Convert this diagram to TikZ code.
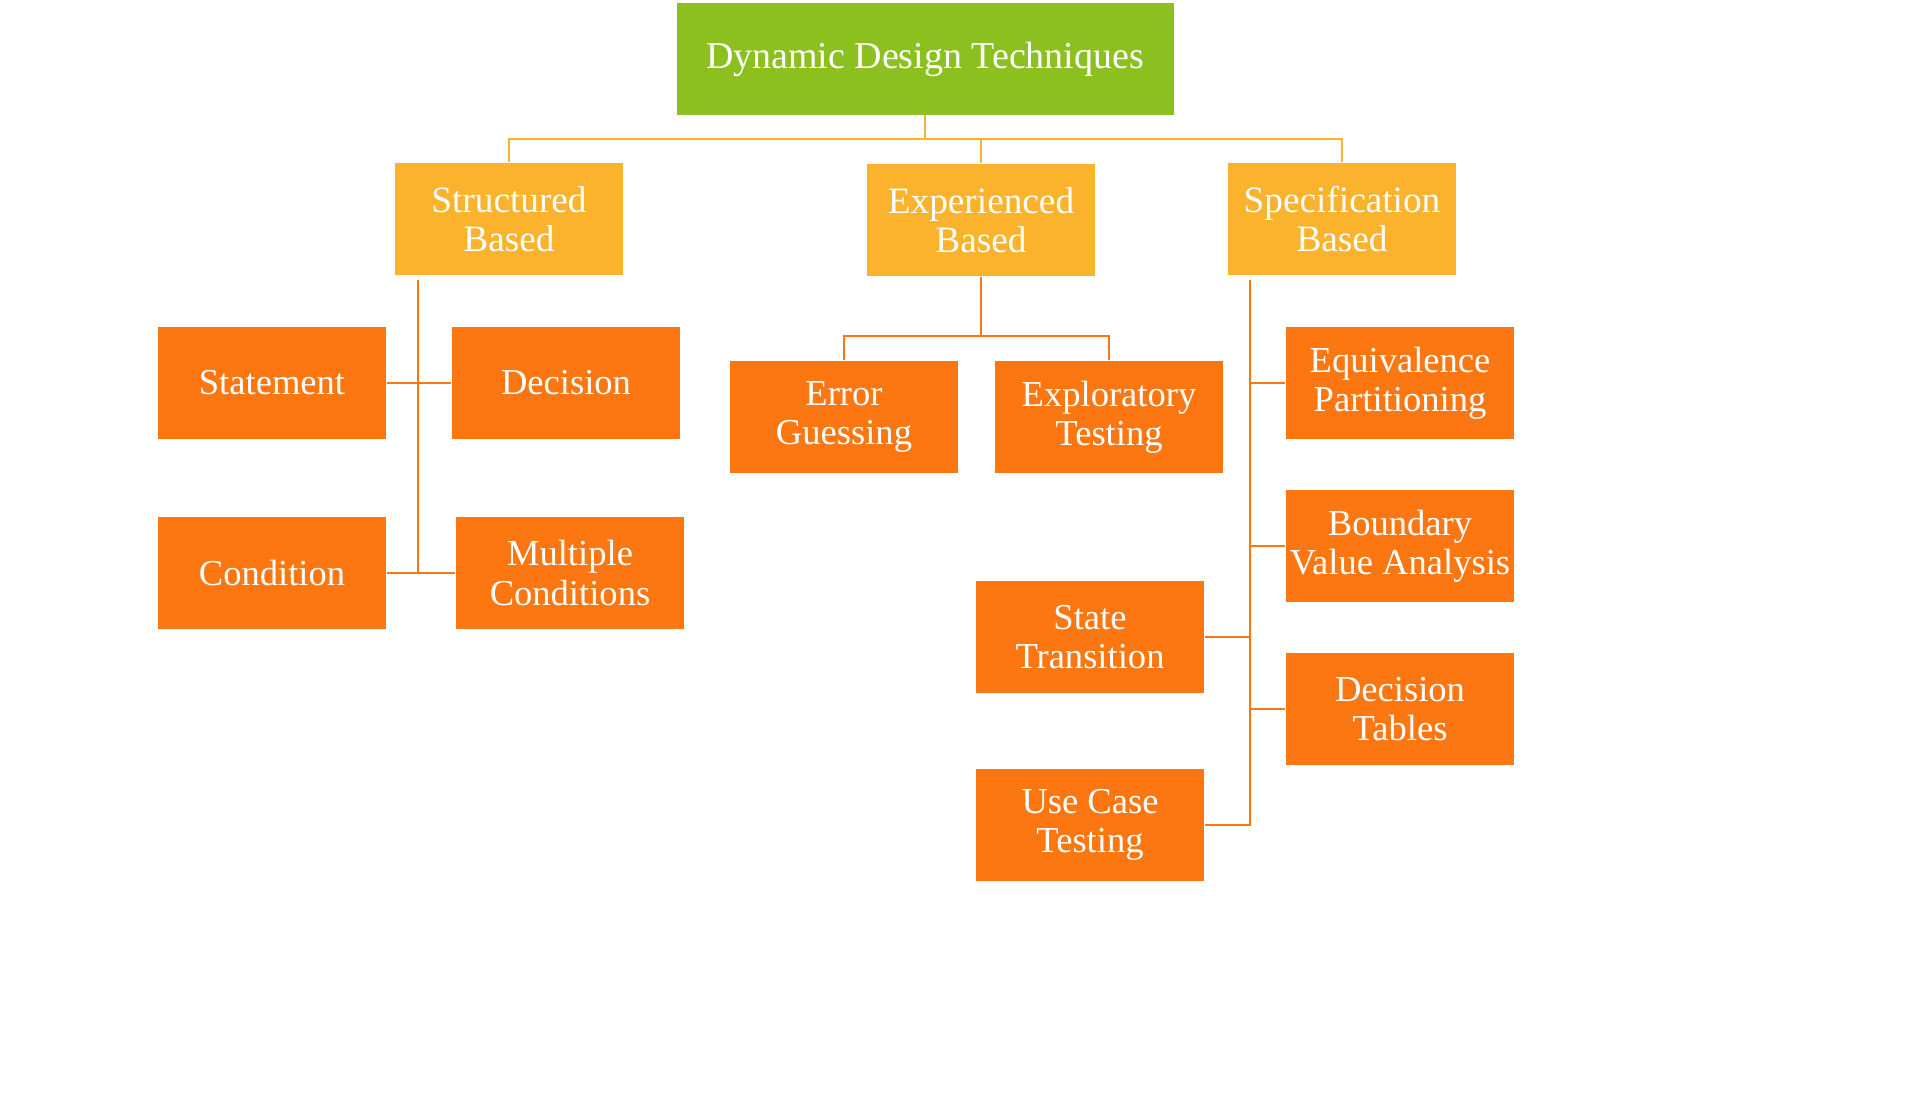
\documentclass[tikz,border=0pt]{standalone}
\usepackage{fontspec}
\setmainfont{Liberation Serif}
\usetikzlibrary{positioning, calc}
\definecolor{rootgreen}{RGB}{139, 192, 30}
\definecolor{lightorange}{RGB}{251, 178, 45}
\definecolor{deeporange}{RGB}{252, 118, 17}

\begin{document}
\begin{tikzpicture}[
  rootbox/.style={fill=rootgreen, text=white, minimum width=4.97cm, minimum height=1.11cm, inner sep=0pt, font=\fontsize{10.8}{11.2}\selectfont},
  groupbox/.style={fill=lightorange, text=white, align=center, minimum width=2.28cm, minimum height=1.12cm, inner sep=0pt, font=\fontsize{10.6}{11.2}\selectfont},
  leafbox/.style={fill=deeporange, text=white, align=center, minimum width=2.28cm, minimum height=1.12cm, inner sep=0pt, font=\fontsize{10.4}{11.2}\selectfont},
  busline/.style={lightorange, line width=0.7pt},
  leafline/.style={deeporange, line width=0.7pt}
]
  \useasboundingbox (0,0) rectangle (19.09,-10.94);

  % root
  \node[rootbox] (root) at (9.25,-0.59) {Dynamic Design Techniques};

  % second level
  \node[groupbox] (struct) at (5.09,-2.19) {Structured\\Based};
  \node[groupbox] (exper) at (9.81,-2.20) {Experienced\\Based};
  \node[groupbox] (spec) at (13.42,-2.19) {Specification\\Based};

  \coordinate (bus) at (9.25,-1.39);
  \draw[busline] (root.south) -- (bus);
  \draw[busline] (struct.north) |- (bus) -| (spec.north);
  \draw[busline] (bus -| exper.north) -- (exper.north);

  % structured based
  \node[leafbox] (stmt) at (2.72,-3.83) {Statement};
  \node[leafbox] (dec) at (5.66,-3.83) {Decision};
  \node[leafbox] (cond) at (2.72,-5.73) {Condition};
  \node[leafbox] (mult) at (5.70,-5.73) {Multiple\\Conditions};

  \coordinate (sttop) at (4.18,-2.80);
  \coordinate (stend) at (4.18,-5.73);
  \draw[leafline] (sttop) -- (stend);
  \draw[leafline] (stmt.east) -- (dec.west);
  \draw[leafline] (cond.east) -- (mult.west);

  % experienced based
  \node[leafbox] (err) at (8.44,-4.17) {Error\\Guessing};
  \node[leafbox] (expl) at (11.09,-4.17) {Exploratory\\Testing};

  \coordinate (expbus) at (9.81,-3.36);
  \draw[leafline] (exper.south) -- (expbus);
  \draw[leafline] (err.north) |- (expbus) -| (expl.north);

  % specification based
  \node[leafbox] (equiv) at (14.00,-3.83) {Equivalence\\Partitioning};
  \node[leafbox] (bound) at (14.00,-5.46) {Boundary\\Value Analysis};
  \node[leafbox] (state) at (10.90,-6.37) {State\\Transition};
  \node[leafbox] (dtab) at (14.00,-7.09) {Decision\\Tables};
  \node[leafbox] (usecase) at (10.90,-8.25) {Use Case\\Testing};

  \coordinate (sptop) at (12.50,-2.80);
  \draw[leafline] (sptop) |- (usecase.east);
  \draw[leafline] (equiv.west -| sptop) -- (equiv.west);
  \draw[leafline] (bound.west -| sptop) -- (bound.west);
  \draw[leafline] (state.east) -- (state.east -| sptop);
  \draw[leafline] (dtab.west -| sptop) -- (dtab.west);
\end{tikzpicture}
\end{document}
